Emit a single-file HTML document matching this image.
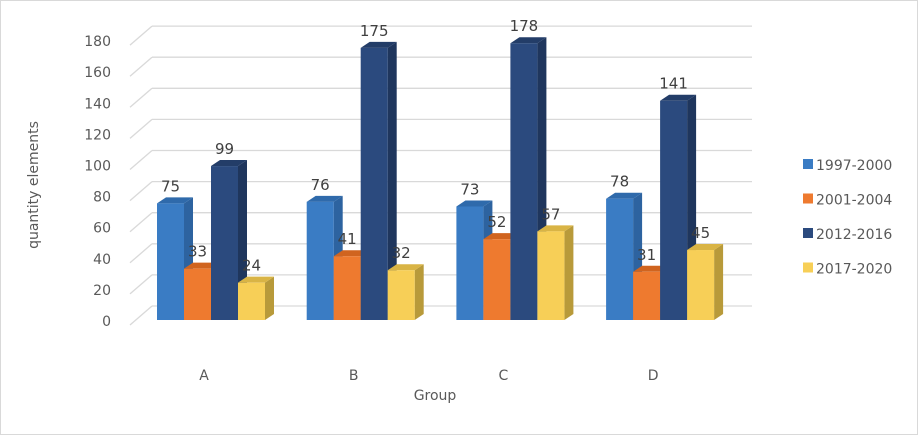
<!DOCTYPE html>
<html><head><meta charset="utf-8"><style>
body{margin:0;background:#fff;}
svg{display:block;font-family:"DejaVu Sans","Liberation Sans",sans-serif;}
</style></head><body>
<svg id="c" width="919" height="436" viewBox="0 0 919 436">
<rect x="0.5" y="0.5" width="917" height="434" fill="#fff" stroke="#d9d9d9"/>
<g id="grid"></g><g id="bars"></g><g id="labels"></g>
<text x="38" y="185" transform="rotate(-90 38 185)" text-anchor="middle" font-size="14" fill="#595959">quantity elements</text>
<text x="435" y="400" text-anchor="middle" font-size="14" fill="#595959">Group</text>
<g id="legend"></g>
</svg>
<script>
const categories=["A","B","C","D"];
const seriesNames=["1997-2000","2001-2004","2012-2016","2017-2020"];
const s1=[75,76,73,78];
const s2=[33,41,52,31];
const s3=[99,175,178,141];
const s4=[24,32,57,45];
const yTicks=[0,20,40,60,80,100,120,140,160,180];
const series=[s1,s2,s3,s4];
const colors=[["#3a7cc4","#2d63a0","#2f6aab"],["#ee7a2f","#b85b1e","#d0641f"],["#2b4a7e","#1f365d","#233d68"],["#f7cf57","#b89a3a","#d9b445"]];
const NS="http://www.w3.org/2000/svg";
const K=1.555,BASE=320,DX=9,DY=-6,BW=27;
const y=v=>BASE-v*K;
const yb=v=>306-v*K;
function mk(tag,attrs,parent){const e=document.createElementNS(NS,tag);for(const k in attrs)e.setAttribute(k,attrs[k]);parent.appendChild(e);return e;}
const grid=document.getElementById('grid'),bars=document.getElementById('bars'),labels=document.getElementById('labels'),legend=document.getElementById('legend');
yTicks.forEach(t=>{
  const l=mk('line',{x1:152,x2:752,y1:yb(t),y2:yb(t),stroke:"#d9d9d9","stroke-width":1.3},grid);
  
  
  const d=mk('line',{x1:130,x2:152,y1:yb(t)+19,y2:yb(t),stroke:"#d9d9d9","stroke-width":1.3},grid);
  
  
  const tx=mk('text',{x:111,y:y(t)+6,"text-anchor":"end","font-size":14,fill:"#595959"},labels);
  tx.textContent=t;
  
  
});
categories.forEach((c,i)=>{
  const gx=157+i*149.7;
  series.forEach((s,j)=>{
    const v=s[i],x0=gx+j*BW,top=y(v),col=colors[j];
    const g=mk('g',{},bars);
    
    
    mk('polygon',{points:`${x0+BW},${BASE} ${x0+BW+DX},${BASE+DY} ${x0+BW+DX},${top+DY} ${x0+BW},${top}`,fill:col[1]},g);
    mk('polygon',{points:`${x0},${top} ${x0+DX},${top+DY} ${x0+BW+DX},${top+DY} ${x0+BW},${top}`,fill:col[2]},g);
    mk('rect',{x:x0,y:top,width:BW,height:BASE-top,fill:col[0]},g);
    const t=mk('text',{x:x0+BW/2,y:top-12,"text-anchor":"middle","font-size":15,fill:"#404040"},labels);
    t.textContent=v;
    
    
  });
  const cl=mk('text',{x:gx+47,y:380,"text-anchor":"middle","font-size":14,fill:"#595959"},labels);
  cl.textContent=c;
  
  
});
seriesNames.forEach((n,j)=>{
  const g=mk('g',{},legend);
  
  
  const ly=165+j*34.5;
  mk('rect',{x:803,y:ly-6,width:10,height:10,fill:colors[j][0]},g);
  const t=mk('text',{x:816,y:ly+5,"font-size":14,fill:"#595959"},g);
  t.textContent=n;
});
</script>
</body></html>
